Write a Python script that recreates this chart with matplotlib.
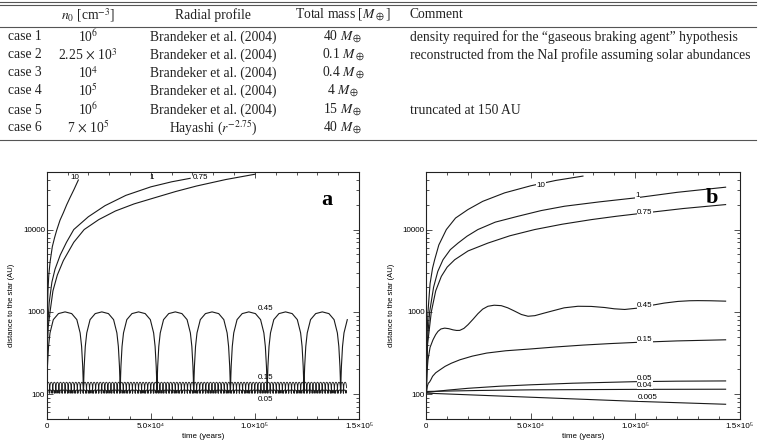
import numpy as np
import matplotlib
matplotlib.use('Agg')
import matplotlib.pyplot as plt
from matplotlib.lines import Line2D
from matplotlib.ticker import MultipleLocator, LogLocator, NullFormatter

W, H = 758, 443
plt.rcParams['mathtext.fontset'] = 'stix'

# -----------------------------------------------------------------------------
# Table data
# -----------------------------------------------------------------------------
header = [r'$n_0$ [cm$^{-3}$]', 'Radial profile', r'Total mass [$M_\oplus$]', 'Comment']
cases = ['case 1', 'case 2', 'case 3', 'case 4', 'case 5', 'case 6']
n0 = ['10$^6$', '2.25 $\\times$ 10$^3$', '10$^4$', '10$^5$', '10$^6$', '7 $\\times$ 10$^5$']
profile = ['Brandeker et al. (2004)'] * 5 + ['Hayashi ($r^{-2.75}$)']
mass = ['40 $M_\\oplus$', '0.1 $M_\\oplus$', '0.4 $M_\\oplus$', '4 $M_\\oplus$',
        '15 $M_\\oplus$', '40 $M_\\oplus$']
comment = ['density required for the \u201cgaseous braking agent\u201d hypothesis',
           'reconstructed from the NaI profile assuming solar abundances',
           '', '', 'truncated at 150 AU', '']

# -----------------------------------------------------------------------------
# Panel a: distance (AU) vs time (years), case 1
# -----------------------------------------------------------------------------
a10_t = [0, 100, 300, 600, 1000, 1600, 2700, 3800, 4800, 6400, 8000, 9600, 11200, 13200, 15200]
a10_r = [100, 400, 1000, 1800, 2800, 4000, 6200, 8000, 9800, 13000, 16000, 20000, 24400, 31000, 40000]
a1_t = [0, 150, 500, 1200, 2500, 4000, 6500, 9500, 13000, 20000, 28000, 38000, 50000, 60000, 68900]
a1_r = [100, 300, 700, 1300, 2300, 3300, 4900, 7000, 10000, 14300, 19500, 26000, 33000, 38000, 41900]
a075_t = [0, 200, 700, 1600, 3000, 5100, 8000, 13000, 18000, 25000, 33000, 42000, 52000,
          62000, 72000, 86000, 100100]
a075_r = [100, 300, 650, 1000, 1800, 2800, 4200, 7000, 10000, 13200, 16800, 20500, 24400,
          29000, 33800, 40500, 47000]

# one bound orbit (phase within a period) and the values read for each curve
orbit_phase = [0, 0.01, 0.02, 0.05, 0.09, 0.18, 0.32, 0.5, 0.68, 0.82, 0.91, 0.95, 0.98, 0.99, 1.0]
a045_r = [105, 160, 217, 380, 555, 805, 953, 1000, 953, 805, 555, 380, 217, 160, 105]
a015_r = [103, 108, 112, 120, 127, 134, 138.5, 140, 138.5, 134, 127, 120, 112, 108, 103]
a005_r = [103, 104, 105, 107, 108.5, 110.5, 112, 112.5, 112, 110.5, 108.5, 107, 105, 104, 103]
a045_period, a015_period, a005_period = 17650, 1470, 1250
a045_end, a_end = 144400, 144000

# -----------------------------------------------------------------------------
# Panel b: distance (AU) vs time (years), case 6
# -----------------------------------------------------------------------------
b10_t = [0, 200, 800, 1800, 3000, 4000, 6000, 9600, 14000, 19950, 27000, 37500, 50000, 62000, 75000]
b10_r = [100, 400, 1000, 2200, 3400, 4300, 6500, 10000, 13800, 17500, 22000, 27900, 34000, 39500, 44600]
b1_t = [0, 400, 1600, 3500, 5500, 8000, 11500, 15200, 19500, 24700, 33000, 43900, 55000,
        66200, 83000, 100500, 120000, 143300]
b1_r = [100, 400, 1000, 2000, 3100, 4300, 5700, 6850, 8300, 10000, 12300, 14500, 17000,
        19200, 21700, 24300, 28300, 32700]
b075_t = [0, 600, 2400, 4500, 7200, 10000, 13600, 20000, 29500, 40000, 51900, 65000, 79000,
          91000, 104500, 123000, 143300]
b075_r = [100, 400, 1000, 1800, 2700, 3500, 4300, 5500, 6850, 8400, 10000, 11600, 13200,
          14500, 15900, 18000, 20100]
b045_t = [0, 300, 800, 1800, 3200, 4500, 5600, 7000, 8800, 10800, 12800, 14500, 16000, 18000,
          20000, 22500, 24700, 27000, 29500, 32500, 35900, 39000, 42000, 45500, 48700, 52000,
          56000, 59900, 66000, 72600, 79000, 85400, 90000, 95000, 101000, 107700, 114000,
          120500, 126000, 130000, 136000, 143300]
b045_r = [100, 180, 260, 370, 458, 530, 580, 620, 635, 625, 605, 595, 596, 630,
          700, 820, 950, 1080, 1170, 1205, 1190, 1120, 1030, 930, 885, 900,
          960, 1020, 1120, 1170, 1165, 1130, 1090, 1070, 1110, 1200, 1280,
          1340, 1365, 1370, 1365, 1350]
b015_t = [0, 500, 960, 1500, 2200, 3000, 4500, 6560, 9000, 12000, 16100, 22000, 28900, 38000,
          49600, 62000, 75000, 88000, 100500, 120000, 143300]
b015_r = [100, 125, 136, 140, 150, 165, 182, 198, 218, 238, 262, 290, 316, 337,
          354, 375, 395, 412, 426, 444, 458]
b005_t = [0, 10000, 20000, 35000, 49600, 70000, 100000, 120000, 143300]
b005_r = [105, 112, 118, 125, 130, 136, 142, 144, 145]
b004_t = [0, 25000, 50000, 100000, 143300]
b004_r = [108, 111, 113, 114.5, 115]
b0005_t = [0, 49600, 100000, 143300]
b0005_r = [103, 92, 82, 75.5]

# curve labels (text, time, distance)
labels_a = [('10', 13750, 42300), ('1', 50500, 42300), ('0.75', 73800, 42300),
            ('0.45', 105000, 1097), ('0.15', 105000, 161), ('0.05', 105000, 87)]
labels_b = [('10', 55000, 34700), ('1', 101000, 25700), ('0.75', 104500, 16100),
            ('0.45', 104500, 1200), ('0.15', 104500, 459), ('0.05', 104500, 157),
            ('0.04', 104500, 127), ('0.005', 106000, 92)]

x_ticks = [0, 5e4, 1e5, 1.5e5]
x_tick_labels = ['0', '5.0\u00d710\u2074', '1.0\u00d710\u2075', '1.5\u00d710\u2075']
y_ticks = [100, 1000, 10000]
y_tick_labels = ['100', '1000', '10000']


def orbit_curve(values, period, t_end):
    # repeat the read orbit shape period after period
    n = int(np.ceil(t_end / period))
    t = np.concatenate([(k + np.array(orbit_phase)) * period for k in range(n)])
    r = np.tile(values, n)
    keep = t <= t_end
    return t[keep], r[keep]


def fx(px):
    return px / W


def fy(py):
    return 1 - py / H


fig = plt.figure(figsize=(W / 100, H / 100), dpi=100)

# ---- table ----
serif = 'Liberation Serif'
tfs = 9.8
tcol = '#222222'
col_x = [25, 88, 213, 343]
comment_x = 410
header_y = 15
row_y = [37, 55, 73, 91, 110, 128]

for x, s in zip(col_x[1:], header[:3]):
    fig.text(fx(x), fy(header_y), s, ha='center', va='center', fontsize=tfs,
             family=serif, color=tcol)
fig.text(fx(comment_x), fy(header_y), header[3], ha='left', va='center', fontsize=tfs,
         family=serif, color=tcol)
for i, y in enumerate(row_y):
    for x, col in zip(col_x, [cases, n0, profile, mass]):
        fig.text(fx(x), fy(y), col[i], ha='center', va='center', fontsize=tfs,
                 family=serif, color=tcol)
    fig.text(fx(comment_x), fy(y), comment[i], ha='left', va='center', fontsize=tfs,
             family=serif, color=tcol)

for y in [1.5, 4.5, 26.5, 140]:
    fig.add_artist(Line2D([0, fx(756)], [fy(y), fy(y)], color='#555555', lw=0.8))

# ---- plots ----
ax_a = fig.add_axes([fx(46.7), fy(419), 312.3 / W, 247 / H])
ax_b = fig.add_axes([fx(426.3), fy(419), 313.3 / W, 247 / H])

lc = '#1a1a1a'
lw = 0.8
sfs = 5.8
tick_font = dict(family=['Liberation Sans', 'DejaVu Sans'])


def style(ax, letter, lx, ly):
    ax.set_yscale('log')
    ax.set_xlim(0, 1.5e5)
    ax.set_ylim(50, 5e4)
    ax.set_xticks(x_ticks)
    ax.set_xticklabels(x_tick_labels, fontsize=sfs, **tick_font)
    ax.xaxis.set_minor_locator(MultipleLocator(1e4))
    ax.set_yticks(y_ticks)
    ax.set_yticklabels(y_tick_labels, fontsize=sfs, **tick_font)
    ax.yaxis.set_minor_locator(LogLocator(base=10, subs=range(2, 10)))
    ax.yaxis.set_minor_formatter(NullFormatter())
    ax.tick_params(which='both', direction='in', top=True, right=True, width=0.6,
                   color='#333333')
    ax.tick_params(which='major', length=4)
    ax.tick_params(which='minor', length=2)
    ax.tick_params(axis='x', pad=3)
    ax.tick_params(axis='y', pad=1.2)
    for s in ax.spines.values():
        s.set_linewidth(0.8)
        s.set_color('#222222')
    ax.set_xlabel('time (years)', fontsize=sfs, **tick_font)
    ax.set_ylabel('distance to the star (AU)', fontsize=5.5, **tick_font)
    ax.xaxis.set_label_coords(0.5, -0.056)
    ax.yaxis.set_label_coords(-0.10, 0.46)
    ax.text(lx, ly, letter, transform=ax.transAxes, fontsize=16, weight='bold',
            family=serif, ha='center', va='center')


# panel a curves
ax_a.plot(a10_t, a10_r, color=lc, lw=lw)
ax_a.plot(a1_t, a1_r, color=lc, lw=lw)
ax_a.plot(a075_t, a075_r, color=lc, lw=lw)
t, r = orbit_curve(a045_r, a045_period, a045_end)
ax_a.plot(t, r, color=lc, lw=lw)
t, r = orbit_curve(a015_r, a015_period, a_end)
ax_a.plot(t, r, color=lc, lw=0.6)
t, r = orbit_curve(a005_r, a005_period, a_end)
ax_a.plot(t, r, color=lc, lw=0.7)
for s, t, r in labels_a:
    ax_a.text(t, r, s, fontsize=sfs, ha='center', va='center', **tick_font)
style(ax_a, 'a', 0.897, 0.887)

# panel b curves
for t, r in [(b10_t, b10_r), (b1_t, b1_r), (b075_t, b075_r), (b045_t, b045_r),
             (b015_t, b015_r), (b005_t, b005_r), (b004_t, b004_r), (b0005_t, b0005_r)]:
    ax_b.plot(t, r, color=lc, lw=lw)
for s, t, r in labels_b:
    ax_b.text(t, r, s, fontsize=sfs, ha='center', va='center', **tick_font,
              bbox=dict(fc='white', ec='none', pad=0.2))
style(ax_b, 'b', 0.91, 0.894)

fig.savefig('out.png', dpi=100)
